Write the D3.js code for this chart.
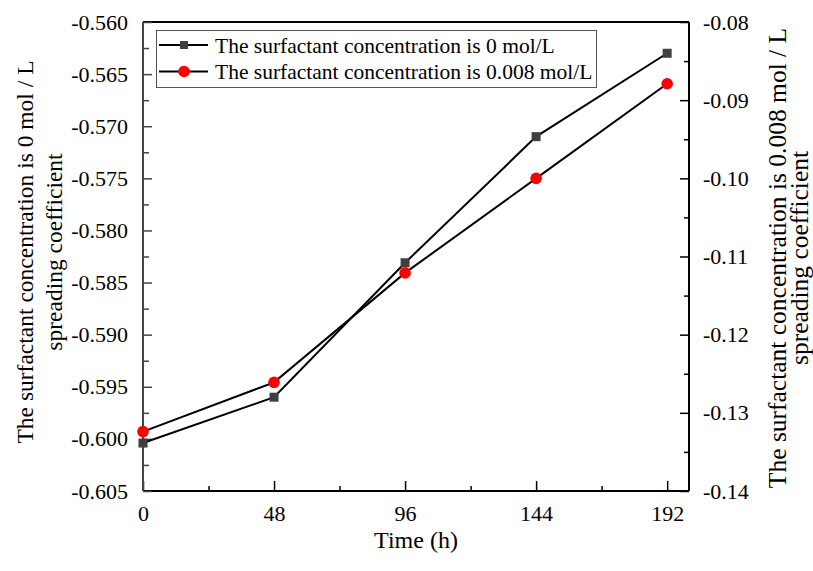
<!DOCTYPE html>
<html>
<head>
<meta charset="utf-8">
<script src="https://cdn.jsdelivr.net/npm/d3@7/dist/d3.min.js"></script>
<style>
  body { margin: 0; background: #fff; }
  svg text { font-family: "Liberation Serif", "Times New Roman", serif; }
</style>
</head>
<body>
<svg id="chart" width="813" height="571"></svg>
<script>
// time points (h)
var hours = [0, 48, 96, 144, 192];
// spreading coefficient, 0 mol/L (left axis)
var coef0 = [-0.6004, -0.5960, -0.5831, -0.5710, -0.5630];
// spreading coefficient, 0.008 mol/L (right axis)
var coef008 = [-0.1324, -0.1261, -0.1121, -0.1000, -0.0879];

var xTicks = [0, 48, 96, 144, 192];
var xMinor = [24, 72, 120, 168];
var yLeftTicks = [-0.605, -0.600, -0.595, -0.590, -0.585, -0.580, -0.575, -0.570, -0.565, -0.560];
var yRightTicks = [-0.14, -0.13, -0.12, -0.11, -0.10, -0.09, -0.08];

var legendLabels = ['The surfactant concentration is 0 mol/L', 'The surfactant concentration is 0.008 mol/L'];

var pLeft = 143, pRight = 689, pTop = 22, pBottom = 491;

var svg = d3.select('#chart');

var x = d3.scaleLinear().domain([0, 200]).range([pLeft, pRight]);
var yL = d3.scaleLinear().domain([-0.605, -0.560]).range([pBottom, pTop]);
var yR = d3.scaleLinear().domain([-0.14, -0.08]).range([pBottom, pTop]);

function minorOf(ticks) {
    var out = [];
    for (var i = 0; i < ticks.length - 1; i++) out.push((ticks[i] + ticks[i + 1]) / 2);
    return out;
}

// frame
svg.append('line').attr('x1', pLeft).attr('x2', pRight).attr('y1', pTop).attr('y2', pTop)
    .style('stroke', '#000').style('stroke-width', 2);

// minor ticks
svg.append('g').attr('transform', 'translate(0,' + pBottom + ')')
    .call(d3.axisBottom(x).tickValues(xMinor).tickSize(-5).tickFormat(''))
    .call(function(g){ g.select('.domain').remove(); });
var minL = svg.append('g').attr('transform', 'translate(' + pLeft + ',0)')
    .call(d3.axisLeft(yL).tickValues(minorOf(yLeftTicks)).tickSize(-6).tickFormat(''))
    .call(function(g){ g.select('.domain').remove(); });
svg.append('g').attr('transform', 'translate(' + pRight + ',0)')
    .call(d3.axisRight(yR).tickValues(minorOf(yRightTicks)).tickSize(-5).tickFormat(''))
    .call(function(g){ g.select('.domain').remove(); });

// major axes
var xAxis = svg.append('g').attr('transform', 'translate(0,' + pBottom + ')')
    .call(d3.axisBottom(x).tickValues(xTicks).tickSize(-10).tickPadding(14).tickSizeOuter(0)
        .tickFormat(function(d){ return d; }));
var yAxisL = svg.append('g').attr('transform', 'translate(' + pLeft + ',0)')
    .call(d3.axisLeft(yL).tickValues(yLeftTicks).tickSize(-9).tickPadding(15).tickSizeOuter(0)
        .tickFormat(function(d){ return d.toFixed(3); }));
var yAxisR = svg.append('g').attr('transform', 'translate(' + pRight + ',0)')
    .call(d3.axisRight(yR).tickValues(yRightTicks).tickSize(-9).tickPadding(14).tickSizeOuter(0)
        .tickFormat(function(d){ return d.toFixed(2); }));

svg.selectAll('g').attr('font-family', null).attr('font-size', null);
svg.selectAll('.tick text')
    .attr('font-family', 'Liberation Serif')
    .style('font-family', '"Liberation Serif", serif')
    .style('font-size', '22px').style('fill', '#000');
svg.selectAll('.domain').style('stroke-width', 2);
svg.selectAll('.tick line').style('stroke-width', 1.5);
yAxisL.selectAll('.domain, .tick line').style('stroke', '#444');
minL.selectAll('.tick line').style('stroke', '#444');
yAxisR.selectAll('.domain').attr('d', 'M0,' + pBottom + 'V' + pTop);
yAxisL.selectAll('.domain').attr('d', 'M0,' + pBottom + 'V' + pTop);
xAxis.selectAll('.domain').attr('d', 'M' + pLeft + ',0H' + pRight);

// axis titles
svg.append('text').attr('x', 416).attr('y', 548).attr('text-anchor', 'middle')
    .style('font-size', '24px').text('Time (h)');

var tl = svg.append('text').attr('transform', 'translate(33,252) rotate(-90)')
    .attr('text-anchor', 'middle').style('font-size', '23.5px');
tl.append('tspan').attr('x', 0).attr('y', 0).text('The surfactant concentration is 0 mol / L');
tl.append('tspan').attr('x', 0).attr('y', 29).text('spreading coefficient');

var tr = svg.append('text').attr('transform', 'translate(786,258) rotate(-90)')
    .attr('text-anchor', 'middle').style('font-size', '25.5px');
tr.append('tspan').attr('x', 0).attr('y', 0).text('The surfactant concentration is 0.008 mol / L');
tr.append('tspan').attr('x', 0).attr('y', 22).text('spreading coefficient');

// series lines
var line0 = d3.line().x(function(d, i){ return x(hours[i]); }).y(function(d){ return yL(d); });
var line1 = d3.line().x(function(d, i){ return x(hours[i]); }).y(function(d){ return yR(d); });

svg.append('path').datum(coef0).attr('d', line0)
    .style('fill', 'none').style('stroke', '#000').style('stroke-width', 2);
svg.append('path').datum(coef008).attr('d', line1)
    .style('fill', 'none').style('stroke', '#000').style('stroke-width', 2);

svg.selectAll('rect.pt').data(coef0).enter().append('rect').attr('class', 'pt')
    .attr('x', function(d, i){ return x(hours[i]) - 4.5; })
    .attr('y', function(d){ return yL(d) - 4.5; })
    .attr('width', 9).attr('height', 9)
    .style('fill', '#404040');
svg.selectAll('circle.pt').data(coef008).enter().append('circle').attr('class', 'pt')
    .attr('cx', function(d, i){ return x(hours[i]); })
    .attr('cy', function(d){ return yR(d); })
    .attr('r', 5.8)
    .style('fill', '#ff0000');

// legend
var lg = svg.append('g');
lg.append('rect').attr('x', 156.5).attr('y', 30.5).attr('width', 440).attr('height', 57)
    .style('fill', '#fff').style('stroke', '#555').style('stroke-width', 1);
var rows = lg.selectAll('g.row').data(legendLabels).enter().append('g')
    .attr('transform', function(d, i){ return 'translate(0,' + (45 + i * 26.5) + ')'; });
rows.append('line').attr('x1', 159).attr('x2', 208)
    .style('stroke', '#000').style('stroke-width', 2);
rows.filter(function(d, i){ return i === 0; }).append('rect')
    .attr('x', 180).attr('y', -4).attr('width', 8).attr('height', 8).style('fill', '#404040');
rows.filter(function(d, i){ return i === 1; }).append('circle')
    .attr('cx', 184).attr('r', 5.8).style('fill', '#ff0000');
rows.append('text').attr('x', 215).attr('dy', '0.35em').style('font-size', '21.5px')
    .text(function(d){ return d; });
</script>
</body>
</html>
